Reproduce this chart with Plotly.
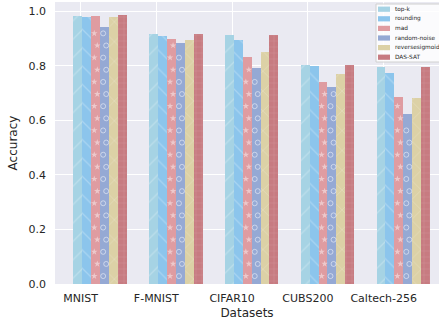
import plotly.graph_objects as go

# Accuracy of each defence method on each dataset
datasets = ["MNIST", "F-MNIST", "CIFAR10", "CUBS200", "Caltech-256"]
methods = ["top-k", "rounding", "mad", "random-noise", "reversesigmoid", "DAS-SAT"]
topk = [0.984, 0.918, 0.912, 0.802, 0.794]
rounding = [0.979, 0.910, 0.896, 0.799, 0.772]
mad = [0.983, 0.899, 0.832, 0.742, 0.684]
random_noise = [0.941, 0.884, 0.791, 0.724, 0.622]
reversesigmoid = [0.978, 0.894, 0.851, 0.770, 0.681]
das_sat = [0.985, 0.918, 0.913, 0.802, 0.794]
y_ticks = [0.0, 0.2, 0.4, 0.6, 0.8, 1.0]

series = [topk, rounding, mad, random_noise, reversesigmoid, das_sat]
colors = ["#a6d3e4", "#8cc5ec", "#df9ca1", "#95a9d4", "#dcd1a6", "#c77b81"]
patterns = ["/", "\\", "", "", "x", "+"]
pattern_sizes = [13, 13, 8, 8, 14, 6]

W, H = 439, 322
ML, MR, MT, MB = 55, 0, 2, 38
bar_w = 0.1175
first_center = -0.036

fig = go.Figure()
for j, (name, vals) in enumerate(zip(methods, series)):
    xs = [i + first_center + j * bar_w for i in range(len(datasets))]
    fig.add_trace(go.Bar(
        x=xs, y=vals, width=bar_w, name=name, showlegend=False,
        marker=dict(
            color=colors[j], line=dict(width=0),
            pattern=dict(shape=patterns[j], fgcolor="rgba(255,255,255,0.5)",
                         size=pattern_sizes[j], solidity=0.1),
        ),
    ))

# star / ring fill textures for the mad and random-noise bars
step, start = 0.0445, 0.029
for j, symbol, mcol, lcol in [(2, "star", "rgba(255,255,255,0.45)", "rgba(255,255,255,0)"),
                              (3, "circle-open", "rgba(255,255,255,0.5)", "rgba(255,255,255,0.5)")]:
    mx, my = [], []
    for i, v in enumerate(series[j]):
        cx = i + first_center + j * bar_w
        k = 0
        while start + k * step < v - 0.02:
            mx.append(cx + (0.022 if k % 2 else -0.018))
            my.append(start + k * step)
            k += 1
    fig.add_trace(go.Scatter(
        x=mx, y=my, mode="markers", showlegend=False, hoverinfo="skip",
        marker=dict(symbol=symbol, size=5, color=mcol,
                    line=dict(width=1, color=lcol)),
    ))

# legend box drawn in paper coordinates
pw, ph = W - ML - MR, H - MT - MB
def px_x(p):
    return (p - ML) / pw
def px_y(p):
    return (H - MB - p) / ph

fig.add_shape(type="rect", xref="paper", yref="paper",
              x0=px_x(376), x1=px_x(450), y0=px_y(62), y1=px_y(4),
              fillcolor="rgba(255,255,255,0.8)", line=dict(color="#d0d0d0", width=1))
for j, name in enumerate(methods):
    yc = 9.2 + j * 9.6
    fig.add_shape(type="rect", xref="paper", yref="paper",
                  x0=px_x(378), x1=px_x(390), y0=px_y(yc + 2.6), y1=px_y(yc - 2.6),
                  fillcolor=colors[j], line=dict(width=0))
    fig.add_annotation(xref="paper", yref="paper", x=px_x(393), y=px_y(yc),
                       text=name, showarrow=False, xanchor="left", yanchor="middle",
                       font=dict(size=5.8, color="#262626"))

fig.update_layout(
    width=W, height=H,
    margin=dict(l=ML, r=MR, t=MT, b=MB),
    paper_bgcolor="white", plot_bgcolor="#eaeaf2",
    barmode="overlay", bargap=0,
    font=dict(family="DejaVu Sans", color="#262626", size=11),
)
fig.update_xaxes(
    range=[-0.337, 4.73], tickvals=list(range(len(datasets))), ticktext=datasets,
    showgrid=True, gridcolor="white", gridwidth=1, zeroline=False,
    ticks="", ticklabelstandoff=6,
    title=dict(text="Datasets", font=dict(size=12), standoff=4),
    tickfont=dict(size=11),
)
fig.update_yaxes(
    range=[0, 1.034], tickvals=y_ticks, ticktext=[f"{t:.1f}" for t in y_ticks],
    showgrid=True, gridcolor="white", gridwidth=1, zeroline=False,
    ticks="", ticklabelstandoff=8,
    title=dict(text="Accuracy", font=dict(size=12), standoff=8),
    tickfont=dict(size=11),
)

fig.write_html("out.html")
